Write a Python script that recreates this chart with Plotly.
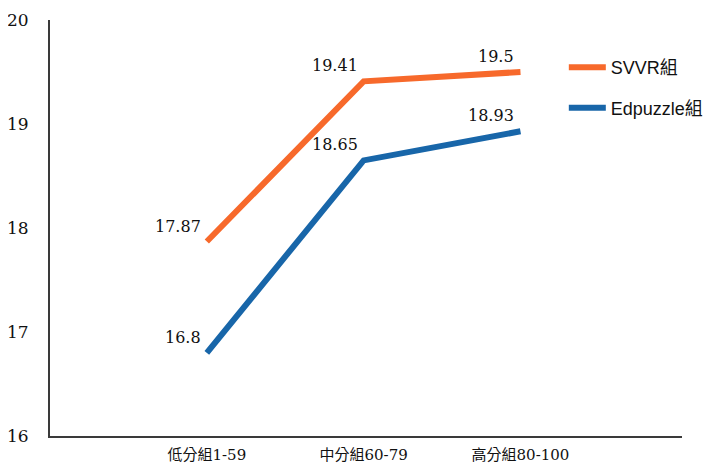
import plotly.graph_objects as go

categories = ["低分組1-59", "中分組60-79", "高分組80-100"]
svvr = [17.87, 19.41, 19.5]
edpuzzle = [16.8, 18.65, 18.93]
series_names = ["SVVR組", "Edpuzzle組"]
y_ticks = [16, 17, 18, 19, 20]

serif = '"DejaVu Serif", "Noto Sans CJK TC", serif'
sans = '"Liberation Sans", Arial, Helvetica, "Noto Sans CJK TC", sans-serif'

fig = go.Figure()
fig.add_trace(go.Scatter(
    x=categories, y=svvr, name=series_names[0], mode="lines",
    line=dict(color="#F7692B", width=6),
    legendgroup="a",
))
fig.add_trace(go.Scatter(
    x=categories, y=edpuzzle, name=series_names[1], mode="lines",
    line=dict(color="#1866A9", width=6),
    legendgroup="b",
))

for series in (svvr, edpuzzle):
    for c, v in zip(categories, series):
        fig.add_annotation(
            x=c, y=v, text=str(v), showarrow=False,
            xanchor="right", yanchor="bottom", xshift=-4, yshift=4,
            font=dict(family=serif, size=16, color="#111111"),
        )

fig.update_layout(
    width=704, height=459,
    margin=dict(l=42, r=30, t=12, b=31, autoexpand=False),
    paper_bgcolor="white", plot_bgcolor="white",
    legend=dict(x=0.813, y=0.930, xanchor="left", yanchor="top",
                font=dict(family=sans, size=18, color="#111111"),
                traceorder="grouped", tracegroupgap=14, itemwidth=37,
                bgcolor="rgba(0,0,0,0)"),
)
fig.update_xaxes(
    type="category", range=[-1.0, 3.03], automargin=False,
    showline=True, linecolor="#3a3a3a", linewidth=2,
    showgrid=False, ticks="", zeroline=False, ticklabelstandoff=4,
    tickfont=dict(family=serif, size=15, color="#111111"),
)
fig.update_yaxes(
    range=[16, 20], tickvals=y_ticks, automargin=False,
    showline=True, linecolor="#3a3a3a", linewidth=2,
    showgrid=False, ticks="", zeroline=False, ticklabelstandoff=16,
    tickfont=dict(family=serif, size=17, color="#111111"),
)

fig.write_html("out.html")
